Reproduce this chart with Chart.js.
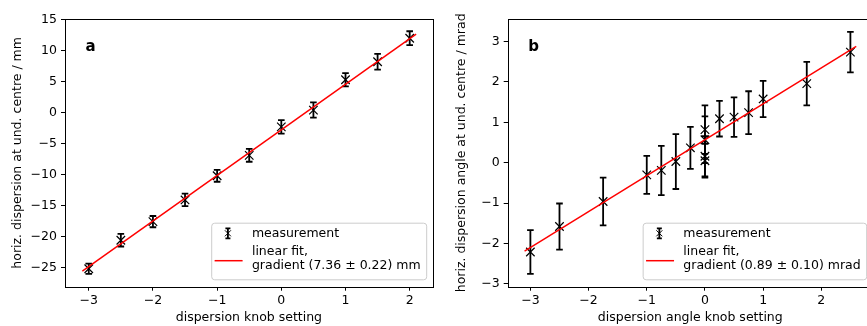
<!DOCTYPE html>
<html>
<head>
<meta charset="utf-8">
<script src="https://cdn.jsdelivr.net/npm/chart.js@4"></script>
<style>
  html, body { margin: 0; padding: 0; background: #fff; overflow: hidden; }
  body { width: 867px; height: 326px; position: relative; }
  canvas { position: absolute; top: 0; }
  #graficoA { left: 0; }
  #graficoB { left: 440px; }
</style>
</head>
<body>
<canvas id="graficoA" width="440" height="326"></canvas>
<canvas id="graficoB" width="440" height="326"></canvas>
<script>
// panel a: dispersion vs knob setting
const knobA = [-3, -2.5, -2, -1.5, -1, -0.5, 0, 0.5, 1, 1.5, 2];
const dispA = [-25.2, -20.6, -17.6, -14.1, -10.2, -6.9, -2.3, 0.4, 5.3, 8.2, 12.0];
const errA = [0.83, 1.01, 0.91, 1.01, 0.96, 1.04, 1.09, 1.23, 1.07, 1.28, 1.12];
const fitXA = [-3.1, 2.1];
const fitYA = [-25.6, 12.65];
const xTicksA = [-3, -2, -1, 0, 1, 2];
const yTicksA = [-25, -20, -15, -10, -5, 0, 5, 10, 15];

// panel b: dispersion angle vs angle knob setting
const knobB = [-3, -2.5, -1.75, -1, -0.75, -0.5, -0.25, 0, 0, 0, 0, 0.25, 0.5, 0.75, 1, 1.75, 2.5];
const dispB = [-2.21, -1.58, -0.96, -0.30, -0.19, 0.03, 0.37, 0.82, 0.57, 0.16, 0.05, 1.09, 1.13, 1.24, 1.58, 1.96, 2.74];
const errB = [0.54, 0.57, 0.59, 0.47, 0.61, 0.68, 0.52, 0.60, 0.58, 0.50, 0.42, 0.44, 0.49, 0.53, 0.45, 0.54, 0.50];
const fitXB = [-3.1, 2.6];
const fitYB = [-2.19, 2.88];
const xTicksB = [-3, -2, -1, 0, 1, 2];
const yTicksB = [-3, -2, -1, 0, 1, 2, 3];

const FONT = '"DejaVu Sans", sans-serif';
Chart.defaults.font.family = FONT;
Chart.defaults.font.size = 12.5;
Chart.defaults.color = '#000';

const meno = v => (v < 0 ? '\u2212' + Math.abs(v) : String(v));
const punti = (xs, ys) => xs.map((x, i) => ({ x, y: ys[i] }));

// error bars drawn under the markers
const barreErrore = {
  id: 'barreErrore',
  beforeDatasetsDraw(chart) {
    const { ctx } = chart;
    const y = chart.scales.y;
    chart.data.datasets.forEach((ds, i) => {
      if (!ds.errori) return;
      const meta = chart.getDatasetMeta(i);
      ctx.save();
      ctx.strokeStyle = '#000';
      ctx.lineWidth = 1.8;
      meta.data.forEach((pt, j) => {
        const v = ds.data[j].y, e = ds.errori[j];
        const top = y.getPixelForValue(v + e);
        const bot = y.getPixelForValue(v - e);
        ctx.beginPath();
        ctx.moveTo(pt.x, top); ctx.lineTo(pt.x, bot);
        ctx.moveTo(pt.x - 3.3, top); ctx.lineTo(pt.x + 3.3, top);
        ctx.moveTo(pt.x - 3.3, bot); ctx.lineTo(pt.x + 3.3, bot);
        ctx.stroke();
      });
      ctx.restore();
    });
  }
};

// frame, panel letter and legend box
const cornice = {
  id: 'cornice',
  afterDraw(chart, args, opts) {
    const { ctx, chartArea: a } = chart;
    ctx.save();
    ctx.strokeStyle = '#000';
    ctx.lineWidth = 1;
    ctx.strokeRect(Math.round(a.left) + 0.5, Math.round(a.top) + 0.5,
      Math.round(a.right) - Math.round(a.left), Math.round(a.bottom) - Math.round(a.top));

    ctx.font = 'bold 15px ' + FONT;
    ctx.fillStyle = '#000';
    ctx.textBaseline = 'alphabetic';
    ctx.textAlign = 'left';
    ctx.fillText(opts.lettera, a.left + 20.5, a.top + 31.5);

    // legend
    ctx.font = '12.5px ' + FONT;
    const righe = ['measurement', 'linear fit,', opts.gradiente];
    const w = 40.7 + Math.max(...righe.map(t => ctx.measureText(t).width)) + 5.5;
    const h = 56.6;
    const x0 = a.right - 6.6 - w;
    const y0 = a.bottom - 7.4 - h;
    ctx.beginPath();
    ctx.roundRect(x0 + 0.5, y0 + 0.5, w, h, 3);
    ctx.fillStyle = 'rgba(255,255,255,0.8)';
    ctx.fill();
    ctx.strokeStyle = '#cccccc';
    ctx.stroke();

    // measurement icon
    const ix = x0 + 16.7, iy = y0 + 10.6;
    ctx.strokeStyle = '#000';
    ctx.lineWidth = 1.8;
    ctx.beginPath();
    ctx.moveTo(ix, iy - 5); ctx.lineTo(ix, iy + 5);
    ctx.moveTo(ix - 2.5, iy - 5); ctx.lineTo(ix + 2.5, iy - 5);
    ctx.moveTo(ix - 2.5, iy + 5); ctx.lineTo(ix + 2.5, iy + 5);
    ctx.stroke();
    ctx.lineWidth = 1;
    ctx.beginPath();
    ctx.moveTo(ix - 3, iy - 3); ctx.lineTo(ix + 3, iy + 3);
    ctx.moveTo(ix - 3, iy + 3); ctx.lineTo(ix + 3, iy - 3);
    ctx.stroke();

    // fit line icon
    ctx.strokeStyle = '#ff0000';
    ctx.lineWidth = 1.5;
    ctx.beginPath();
    ctx.moveTo(x0 + 3.4, y0 + 38); ctx.lineTo(x0 + 31.4, y0 + 38);
    ctx.stroke();

    ctx.fillStyle = '#000';
    ctx.textBaseline = 'middle';
    ctx.fillText(righe[0], x0 + 40.7, y0 + 10.6);
    ctx.fillText(righe[1], x0 + 40.7, y0 + 29);
    ctx.fillText(righe[2], x0 + 40.7, y0 + 43);
    ctx.restore();
  }
};

function generaGrafico(canvasId, cfg) {
  const canvas = document.getElementById(canvasId);
  new Chart(canvas.getContext('2d'), {
    type: 'scatter',
    data: {
      datasets: [
        {
          label: 'measurement',
          data: punti(cfg.xs, cfg.ys),
          errori: cfg.errs,
          pointStyle: 'crossRot',
          pointRadius: 6,
          borderColor: '#000',
          backgroundColor: '#000',
          borderWidth: 1.2,
          order: 1
        },
        {
          label: 'linear fit',
          data: punti(cfg.fitX, cfg.fitY),
          showLine: true,
          borderColor: '#ff0000',
          borderWidth: 1.5,
          pointRadius: 0,
          order: 0
        }
      ]
    },
    options: {
      responsive: false,
      animation: false,
      layout: { padding: { top: 19, right: cfg.padRight, bottom: 0, left: 0 } },
      plugins: {
        legend: { display: false },
        tooltip: { enabled: false },
        cornice: { lettera: cfg.lettera, gradiente: cfg.gradiente }
      },
      scales: {
        x: {
          type: 'linear',
          min: cfg.xMin,
          max: cfg.xMax,
          afterBuildTicks: s => { s.ticks = cfg.xTicks.map(value => ({ value })); },
          afterFit: s => { s.height = 39.3; },
          ticks: { callback: meno, padding: 3, maxRotation: 0, autoSkip: false },
          grid: { drawOnChartArea: false, drawTicks: true, tickLength: 4, tickColor: '#000', tickWidth: 1 },
          border: { display: false },
          title: { display: true, text: cfg.xLabel, padding: { top: 0, bottom: 0.5 } }
        },
        y: {
          type: 'linear',
          min: cfg.yMin,
          max: cfg.yMax,
          afterBuildTicks: s => { s.ticks = cfg.yTicks.map(value => ({ value })); },
          afterFit: s => { s.width = cfg.yWidth; },
          ticks: { callback: meno, padding: 4, autoSkip: false },
          grid: { drawOnChartArea: false, drawTicks: true, tickLength: 4, tickColor: '#000', tickWidth: 1 },
          border: { display: false },
          title: { display: true, text: cfg.yLabel, padding: { top: cfg.yTitlePad, bottom: 0 } }
        }
      }
    },
    plugins: [barreErrore, cornice]
  });
}

generaGrafico('graficoA', {
  xs: knobA, ys: dispA, errs: errA, fitX: fitXA, fitY: fitYA,
  xTicks: xTicksA, yTicks: yTicksA,
  xMin: -3.37, xMax: 2.36, yMin: -28.1, yMax: 15.1,
  xLabel: 'dispersion knob setting',
  yLabel: 'horiz. dispersion at und. centre / mm',
  lettera: 'a',
  gradiente: 'gradient (7.36 \u00b1 0.22) mm',
  padRight: 6.7, yWidth: 65, yTitlePad: 10.5
});

generaGrafico('graficoB', {
  xs: knobB, ys: dispB, errs: errB, fitX: fitXB, fitY: fitYB,
  xTicks: xTicksB, yTicks: yTicksB,
  xMin: -3.39, xMax: 2.885, yMin: -3.07, yMax: 3.56,
  xLabel: 'dispersion angle knob setting',
  yLabel: 'horiz. dispersion angle at und. centre / mrad',
  lettera: 'b',
  gradiente: 'gradient (0.89 \u00b1 0.10) mrad',
  padRight: 4.4, yWidth: 67.7, yTitlePad: 14.5
});
</script>
</body>
</html>
